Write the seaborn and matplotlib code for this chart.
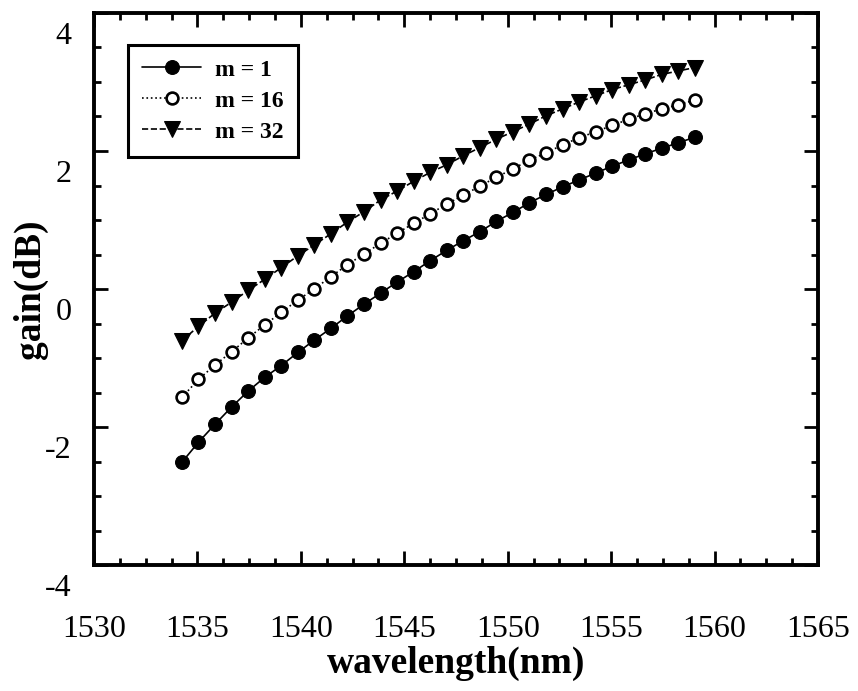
import numpy as np
import pandas as pd
import matplotlib
matplotlib.use("Agg")
import matplotlib.pyplot as plt
import matplotlib.transforms as mtransforms
from matplotlib.ticker import MultipleLocator
import seaborn as sns

# ---- data (32 channels, 0.8 nm grid) ----
wavelength = [1534.25, 1535.05, 1535.85, 1536.65, 1537.45, 1538.25, 1539.05, 1539.85,
              1540.65, 1541.45, 1542.25, 1543.05, 1543.85, 1544.65, 1545.45, 1546.25,
              1547.05, 1547.85, 1548.65, 1549.45, 1550.25, 1551.05, 1551.85, 1552.65,
              1553.45, 1554.25, 1555.05, 1555.85, 1556.65, 1557.45, 1558.25, 1559.05]

gain_m1 = [-2.51, -2.22, -1.96, -1.71, -1.48, -1.28, -1.11, -0.92,
           -0.74, -0.57, -0.39, -0.22, -0.06, 0.10, 0.25, 0.41,
           0.56, 0.70, 0.83, 0.98, 1.11, 1.25, 1.37, 1.48,
           1.58, 1.68, 1.78, 1.87, 1.96, 2.04, 2.12, 2.20]

gain_m16 = [-1.57, -1.31, -1.10, -0.91, -0.71, -0.52, -0.34, -0.16,
            0.00, 0.18, 0.35, 0.51, 0.66, 0.81, 0.95, 1.09,
            1.23, 1.36, 1.49, 1.62, 1.74, 1.87, 1.97, 2.09,
            2.19, 2.28, 2.37, 2.46, 2.54, 2.61, 2.67, 2.74]

gain_m32 = [-0.75, -0.54, -0.35, -0.19, -0.02, 0.14, 0.31, 0.48,
            0.64, 0.80, 0.97, 1.12, 1.29, 1.42, 1.56, 1.69,
            1.80, 1.93, 2.05, 2.17, 2.28, 2.39, 2.51, 2.61,
            2.71, 2.80, 2.89, 2.96, 3.03, 3.11, 3.16, 3.21]

series_labels = ["m = 1", "m = 16", "m = 32"]

df = pd.DataFrame({
    "wavelength": wavelength * 3,
    "gain": gain_m1 + gain_m16 + gain_m32,
    "series": [s for s in series_labels for _ in wavelength],
})

sns.set_style("ticks")
plt.rcParams["font.family"] = ["Liberation Serif", "DejaVu Serif"]
plt.rcParams["axes.unicode_minus"] = False
for key in ["axes.edgecolor", "xtick.color", "ytick.color", "text.color",
            "axes.labelcolor", "xtick.labelcolor", "ytick.labelcolor"]:
    plt.rcParams[key] = "black"

fig = plt.figure(figsize=(8.58, 6.91), dpi=100)
ax = fig.add_axes([0.1096, 0.1823, 0.8438, 0.7989])

styles = {
    "m = 1": dict(marker="o", linestyle="-", mfc="black", ms=10),
    "m = 16": dict(marker="o", linestyle=":", mfc="white", ms=8.5, mew=1.9),
    "m = 32": dict(marker="v", linestyle="--", mfc="black", ms=11),
}

for name in series_labels:
    sub = df[df["series"] == name]
    sns.lineplot(data=sub, x="wavelength", y="gain", ax=ax, color="black",
                 lw=1.2, mec="black", label=name, **styles[name])

ax.set_xlim(1530, 1565)
ax.set_ylim(-4, 4)
ax.xaxis.set_major_locator(MultipleLocator(5))
ax.xaxis.set_minor_locator(MultipleLocator(1.25))
ax.yaxis.set_major_locator(MultipleLocator(2))
ax.yaxis.set_minor_locator(MultipleLocator(0.5))

for sp in ax.spines.values():
    sp.set_linewidth(2.8)
    sp.set_color("black")
    sp.set_visible(True)

ax.tick_params(which="both", direction="in", top=True, right=True, width=2,
               color="black", labelcolor="black")
ax.tick_params(which="major", length=10, labelsize=23)
ax.tick_params(which="minor", length=5)
ax.tick_params(axis="x", which="major", pad=36)
ax.tick_params(axis="y", which="major", pad=16)

# the scanned figure prints the y tick numbers a little below their ticks
shift = mtransforms.ScaledTranslation(0, -0.2, fig.dpi_scale_trans)
for lbl in ax.get_yticklabels():
    lbl.set_transform(lbl.get_transform() + shift)

ax.set_xlabel("wavelength(nm)", fontsize=27, fontweight="bold", labelpad=1)
ax.set_ylabel("gain(dB)", fontsize=27, fontweight="bold")
ax.yaxis.set_label_coords(-0.064, 0.5)

leg = ax.legend(loc="upper left", bbox_to_anchor=(0.047, 0.942), frameon=True,
                fancybox=False, edgecolor="black", framealpha=1,
                prop={"weight": "bold", "size": 17}, handlelength=2.5,
                borderpad=0.6, labelspacing=0.4, handletextpad=0.6,
                borderaxespad=0)
leg.get_frame().set_linewidth(2.2)

fig.savefig("out.png", dpi=100)
